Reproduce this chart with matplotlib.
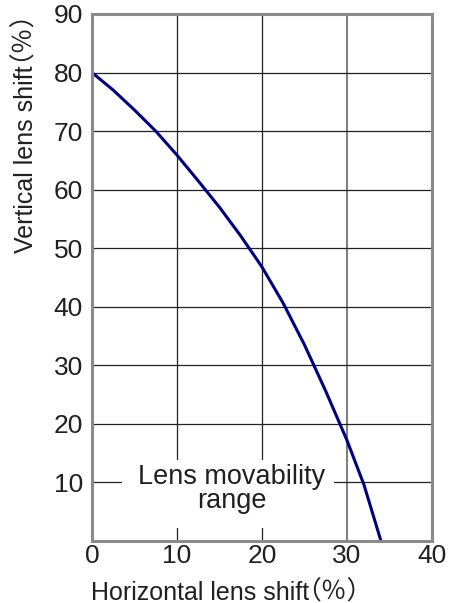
import matplotlib
matplotlib.use("Agg")
import matplotlib.pyplot as plt
from matplotlib.patches import Rectangle
from matplotlib.textpath import TextPath
from matplotlib.font_manager import FontProperties

plt.rcParams['font.family'] = ['Liberation Sans', 'Noto Sans CJK JP', 'DejaVu Sans']

# Data
h_shift = [0, 2.5, 5, 7.5, 10, 12.5, 15, 17.5, 20, 22.5, 25, 27.5, 30, 32, 34]
v_shift = [80, 77.0, 73.6, 70.0, 65.9, 61.5, 57.0, 52.1, 46.8, 40.6, 33.5, 25.6, 17.2, 9.6, 0]
x_ticks = [0, 10, 20, 30, 40]
y_ticks = [10, 20, 30, 40, 50, 60, 70, 80, 90]
x_label = "Horizontal lens shift"
y_label = "Vertical lens shift"
unit_label = "（％）"
range_label = "Lens movability\nrange"

W, H = 459, 603
TXT = '#231f20'
fig = plt.figure(figsize=(W / 100, H / 100), dpi=100)
ax = fig.add_axes([0.2004, 0.1028, 0.7407, 0.874])
ax.set_xlim(0, 40)
ax.set_ylim(0, 90)

# grid lines
for xv in x_ticks[1:-1]:
    col = '#808080' if xv == 30 else '#222222'
    lw = 1.5 if xv == 30 else 0.9
    ax.axvline(xv, color=col, lw=lw, zorder=0.5)
for yv in y_ticks[:-1]:
    ax.axhline(yv, color='#222222', lw=0.9, zorder=0.5)

# white box behind the label
ax.add_patch(Rectangle((3.5, 2.2), 25.0, 11.6, facecolor='white', edgecolor='none', zorder=1))
ax.text(16.4, 8.8, range_label, ha='center', va='center', fontsize=19.5,
        color=TXT, linespacing=0.9, zorder=3)

ax.plot(h_shift, v_shift, color='#000080', lw=2.2, zorder=2, solid_capstyle='butt')

ax.set_xticks(x_ticks)
ax.set_yticks(y_ticks)
ax.tick_params(length=0, labelsize=19, labelcolor=TXT)
ax.tick_params(axis='x', pad=2.5)
ax.tick_params(axis='y', pad=6.5)
for s in ax.spines.values():
    s.set_color('#8a8a8a')
    s.set_linewidth(2.2)

# axis labels, placed in pixel coordinates; unit in full-width parentheses
LS = 18
US = 18.5
PX = 100 / 72
lat = FontProperties(family='Liberation Sans', size=LS)
cjk = FontProperties(family='Noto Sans CJK JP', size=US)
u_ext = TextPath((0, 0), unit_label, size=US * PX, prop=cjk).get_extents()
hx_ext = TextPath((0, 0), x_label, size=LS * PX, prop=lat).get_extents()
vy_ext = TextPath((0, 0), y_label, size=LS * PX, prop=lat).get_extents()

# horizontal label: ink starts at x=93, baseline at y=600 (from top)
x0 = 93 - hx_ext.x0
fig.text(x0 / W, (H - 600) / H, x_label, ha='left', va='baseline',
         fontproperties=lat, color=TXT)
ux = x0 + hx_ext.x1 + 4 - u_ext.x0
fig.text(ux / W, (H - 600) / H, unit_label, ha='left', va='baseline',
         fontproperties=cjk, color=TXT)

# vertical label: baseline at x=33, ink starts at y=253 (from top)
y0 = (H - 253) - vy_ext.x0
fig.text(33 / W, y0 / H, y_label, ha='left', va='baseline',
         rotation=90, rotation_mode='anchor', fontproperties=lat, color=TXT)
uy = y0 + vy_ext.x1 + 5
fig.text((33 - u_ext.x0) / W, uy / H, unit_label, ha='left', va='baseline',
         rotation=90, rotation_mode='anchor', fontproperties=cjk, color=TXT)

fig.savefig("out.png", dpi=100)
